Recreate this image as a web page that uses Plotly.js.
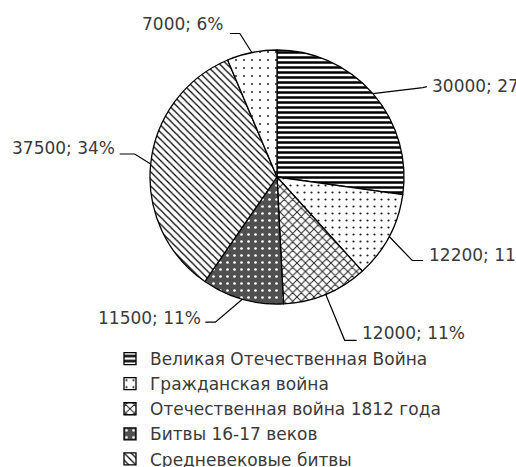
<!DOCTYPE html>
<html><head><meta charset="utf-8">
<script src="https://cdn.plot.ly/plotly-3.0.1.min.js"></script>
<style>html,body{margin:0;padding:0;background:#fff}#chart{width:516px;height:467px}</style>
</head><body><div id="chart"></div>
<script>
// ---- data ----
const categories = ['Великая Отечественная Война', 'Гражданская война', 'Отечественная война 1812 года', 'Битвы 16-17 веков', 'Средневековые битвы', 'Другие битвы'];
const values = [30000, 12200, 12000, 11500, 37500, 7000];
const percentLabels = ['27%', '11%', '11%', '11%', '34%', '6%'];

// ---- layout / style ----
const W = 516, H = 467, CX = 277, CY = 177, R = 127;
const TXT = '#3a3a3a';
const FONT = 'DejaVu Sans, sans-serif';
// leader lines: elbow q, end e (px offsets from slice edge point), text offset t from e
const leaders = [
  {q: [50, -6], e: [54, -7], t: [3, -1], anchor: 'left'},
  {q: [23, 24], e: [34, 24], t: [4, -5], anchor: 'left'},
  {q: [19, 46], e: [31, 46], t: [3, -7], anchor: 'left'},
  {q: [-27, 23], e: [-37, 23], t: [-2, -4], anchor: 'right'},
  {q: [-16, -10], e: [-31, -10], t: [-3, -6], anchor: 'right'},
  {q: [-12, -19], e: [-22, -19], t: [-5, -10], anchor: 'right'}
];
const pattern = {
  shape:    ['-', '.', 'x', '.', '\\', '.'],
  fgcolor:  ['#000', '#222', '#222', '#fff', '#000', '#222'],
  bgcolor:  ['#fff', '#fff', '#fff', '#505050', '#fff', '#fff'],
  size:     [5, 7, 6, 7, 5, 8],
  solidity: [0.5, 0.08, 0.3, 0.12, 0.25, 0.05],
  fillmode: 'replace'
};

const px = x => x / W, py = y => 1 - y / H;
const total = values.reduce((a, b) => a + b, 0);
let cum = 0;
const shapes = [], annotations = [];
values.forEach((v, i) => {
  const th = 2 * Math.PI * (cum + v / 2) / total;
  cum += v;
  const P = [CX + R * Math.sin(th), CY - R * Math.cos(th)];
  const L = leaders[i];
  const Q = [P[0] + L.q[0], P[1] + L.q[1]];
  const E = [P[0] + L.e[0], P[1] + L.e[1]];
  shapes.push({type: 'path', xref: 'paper', yref: 'paper',
    path: `M${px(P[0])},${py(P[1])} L${px(Q[0])},${py(Q[1])} L${px(E[0])},${py(E[1])}`,
    line: {color: '#000', width: 1.2}});
  annotations.push({xref: 'paper', yref: 'paper', x: px(E[0] + L.t[0]), y: py(E[1] + L.t[1]),
    xanchor: L.anchor, yanchor: 'middle', showarrow: false,
    text: v + '; ' + percentLabels[i], font: {family: FONT, size: 17, color: TXT}});
});

const trace = {
  type: 'pie', values: values, labels: categories, sort: false,
  direction: 'clockwise', rotation: 0, textinfo: 'none', hoverinfo: 'none',
  domain: {x: [px(CX - R), px(CX + R)], y: [py(CY + R), py(CY - R)]},
  marker: {colors: pattern.bgcolor, line: {color: '#000', width: 1.3}, pattern: pattern}
};

const layout = {
  width: W, height: H, margin: {l: 0, r: 0, t: 0, b: 0, autoexpand: false},
  paper_bgcolor: '#fff', showlegend: true,
  legend: {x: px(110), y: py(341), xanchor: 'left', yanchor: 'top', bgcolor: 'rgba(0,0,0,0)',
    font: {family: FONT, size: 17, color: TXT}, tracegroupgap: 0},
  shapes: shapes, annotations: annotations
};
Plotly.newPlot('chart', [trace], layout, {displayModeBar: false, staticPlot: true});
</script></body></html>
